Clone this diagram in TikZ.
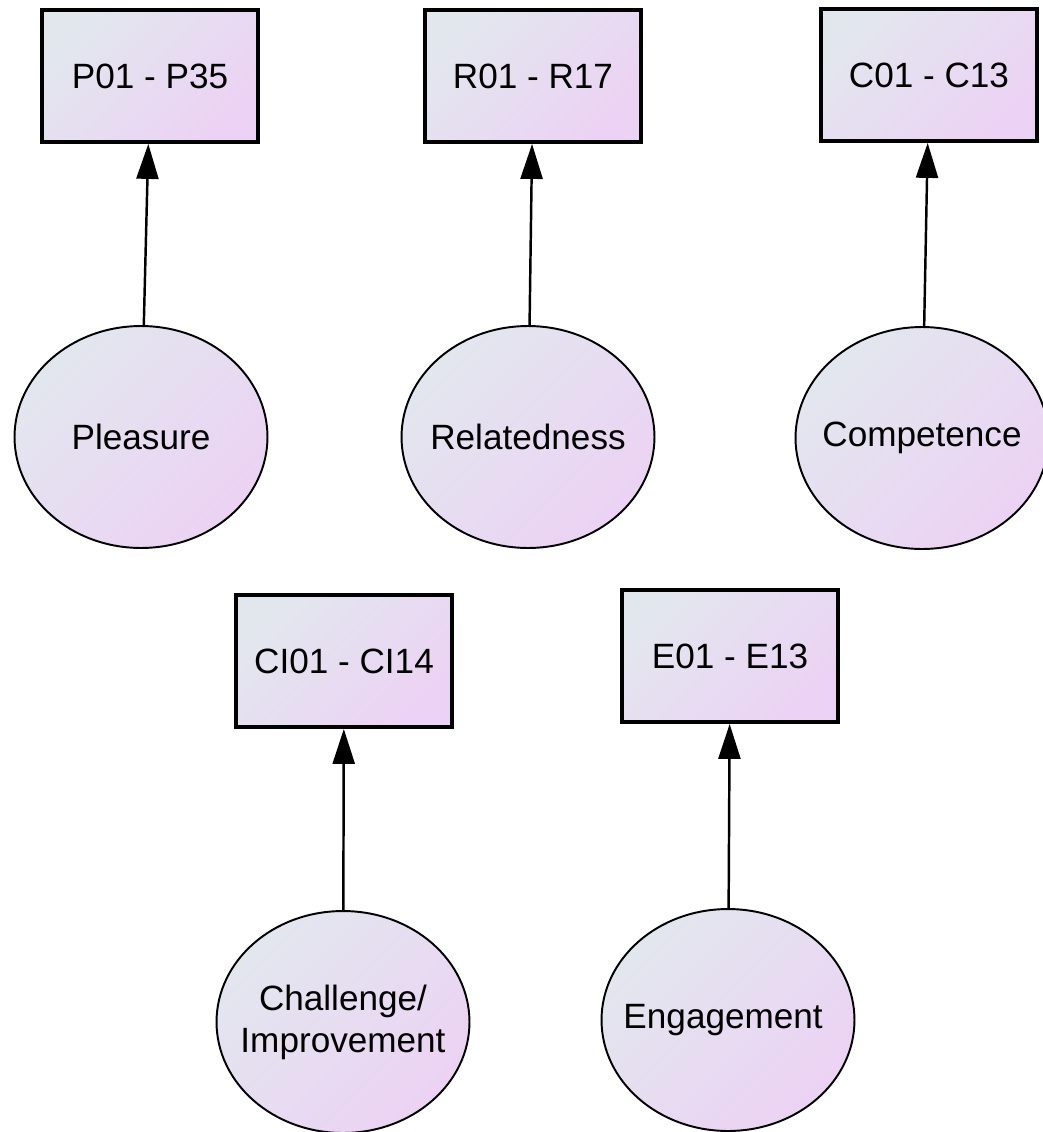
\documentclass[tikz,border=0pt]{standalone}
\usepackage{fontspec}
\setmainfont{Liberation Sans}
\usepackage{xcolor}
\definecolor{shadeblue}{RGB}{226,231,238}
\definecolor{shadepink}{RGB}{236,210,244}
\usetikzlibrary{shapes.geometric, arrows.meta}

\begin{document}
\begin{tikzpicture}[x=0.02cm, y=-0.02cm,
  itembox/.style={draw, line width=2.2pt, top color=shadeblue,
    bottom color=shadepink, shading angle=45,
    minimum width=4.32cm, minimum height=2.64cm,
    font=\fontsize{20}{24}\selectfont},
  factor/.style={ellipse, draw, line width=1.1pt, top color=shadeblue,
    bottom color=shadepink, shading angle=45,
    minimum width=5.06cm, minimum height=4.44cm,
    inner xsep=-0.5cm, inner ysep=0pt,
    align=center, font=\fontsize{20}{24}\selectfont},
  link/.style={-{Triangle[length=0.7cm, width=0.44cm]}, line width=1.4pt}]
\useasboundingbox (0,0) rectangle (1043,1132);
% indicator blocks and their latent factors
\foreach \nm/\bx/\by/\ex/\ey/\items/\fac in {
  p/150/76/141/437/{P01 - P35}/{Pleasure},
  r/533/76/528/437/{R01 - R17}/{Relatedness},
  c/929/75/922/438/{C01 - C13}/{Competence},
  ci/344/661/343/1022/{CI01 - CI14}/{Challenge/\\Improvement},
  e/730/656/728/1020/{E01 - E13}/{Engagement}
}{
  \node[itembox] (\nm box) at (\bx,\by) {\items};
  \node[factor] (\nm fac) at (\ex,\ey) {\fac};
  \draw[link] (\nm fac) -- (\nm box);
}
\end{tikzpicture}
\end{document}
